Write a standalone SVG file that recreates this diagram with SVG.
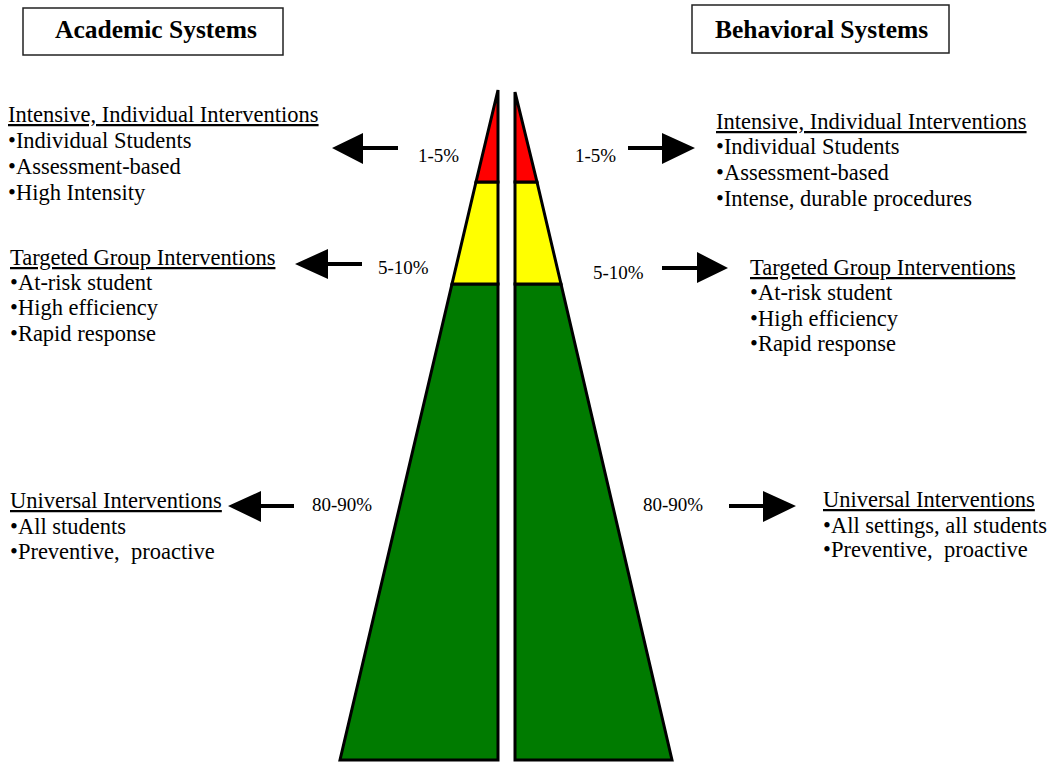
<svg xmlns="http://www.w3.org/2000/svg" width="1052" height="763" viewBox="0 0 1052 763">
  <style>
    .txt { font-family: "Liberation Serif", "Times New Roman", serif; font-size: 22.5px; fill: #000; }
    .head { font-family: "Liberation Serif", "Times New Roman", serif; font-size: 25.5px; font-weight: bold; fill: #000; }
    .pct { font-family: "Liberation Serif", "Times New Roman", serif; font-size: 19px; fill: #000; }
    .ul { text-decoration: underline; }
    .box { fill: #fff; stroke: #222; stroke-width: 1.5; }
    .tier { stroke: #000; stroke-width: 3; stroke-linejoin: miter; }
    .red { fill: #ff0000; }
    .yellow { fill: #ffff00; }
    .green { fill: #007b00; }
    .arrow { fill: #000; }
  </style>

  <rect width="1052" height="763" fill="#fff"/>

  <!-- column headers -->
  <g id="header-academic">
    <rect class="box" x="23" y="8" width="260" height="47"/>
    <text class="head" x="55" y="38">Academic Systems</text>
  </g>
  <g id="header-behavioral">
    <rect class="box" x="692" y="5" width="257" height="48"/>
    <text class="head" x="715" y="38">Behavioral Systems</text>
  </g>

  <!-- left half of the triangle -->
  <g id="pyramid-academic">
    <polygon class="tier green" points="452,284 498,284 498,760 340,760"/>
    <polygon class="tier yellow" points="476,182 498,182 498,284 452,284"/>
    <polygon class="tier red" points="498,90 498,182 476,182"/>
  </g>

  <!-- right half of the triangle -->
  <g id="pyramid-behavioral">
    <polygon class="tier green" points="515,284 561,284 672,760 515,760"/>
    <polygon class="tier yellow" points="515,182 537,182 561,284 515,284"/>
    <polygon class="tier red" points="515,92 537,182 515,182"/>
  </g>

  <!-- percentage labels -->
  <g id="pct-labels">
    <text class="pct" x="418" y="162">1-5%</text>
    <text class="pct" x="575" y="162">1-5%</text>
    <text class="pct" x="378" y="274">5-10%</text>
    <text class="pct" x="593" y="279">5-10%</text>
    <text class="pct" x="312" y="511">80-90%</text>
    <text class="pct" x="643" y="511">80-90%</text>
  </g>

  <!-- academic tier descriptions -->
  <g id="academic-intensive">
    <text class="txt ul" x="8" y="122">Intensive, Individual Interventions</text>
    <text class="txt" x="8" y="148">•Individual Students</text>
    <text class="txt" x="8" y="174">•Assessment-based</text>
    <text class="txt" x="8" y="200">•High Intensity</text>
  </g>
  <g id="academic-targeted">
    <text class="txt ul" x="10" y="265">Targeted Group Interventions</text>
    <text class="txt" x="10" y="290">•At-risk student</text>
    <text class="txt" x="10" y="315">•High efficiency</text>
    <text class="txt" x="10" y="341">•Rapid response</text>
  </g>
  <g id="academic-universal">
    <text class="txt ul" x="10" y="508">Universal Interventions</text>
    <text class="txt" x="10" y="534">•All students</text>
    <text class="txt" x="10" y="559">•Preventive,&#160; proactive</text>
  </g>

  <!-- behavioral tier descriptions -->
  <g id="behavioral-intensive">
    <text class="txt ul" x="716" y="129">Intensive, Individual Interventions</text>
    <text class="txt" x="716" y="154">•Individual Students</text>
    <text class="txt" x="716" y="180">•Assessment-based</text>
    <text class="txt" x="716" y="206">•Intense, durable procedures</text>
  </g>
  <g id="behavioral-targeted">
    <text class="txt ul" x="750" y="275">Targeted Group Interventions</text>
    <text class="txt" x="750" y="300">•At-risk student</text>
    <text class="txt" x="750" y="326">•High efficiency</text>
    <text class="txt" x="750" y="351">•Rapid response</text>
  </g>
  <g id="behavioral-universal">
    <text class="txt ul" x="823" y="507">Universal Interventions</text>
    <text class="txt" x="823" y="533">•All settings, all students</text>
    <text class="txt" x="823" y="557">•Preventive,&#160; proactive</text>
  </g>

  <!-- arrows from the percentages to the descriptions -->
  <g id="connectors">
    <polygon class="arrow" points="332,148 363,133 363,146 398,146 398,150 363,150 363,164"/>
    <polygon class="arrow" points="295,264 328,249 328,262 362,262 362,266 328,266 328,279"/>
    <polygon class="arrow" points="228,506 261,491 261,504 294,504 294,508 261,508 261,522"/>
    <polygon class="arrow" points="695,148 662,133 662,146 628,146 628,150 662,150 662,164"/>
    <polygon class="arrow" points="728,268 697,252 697,266 662,266 662,270 697,270 697,283"/>
    <polygon class="arrow" points="796,506 763,491 763,504 729,504 729,508 763,508 763,522"/>
  </g>
</svg>
